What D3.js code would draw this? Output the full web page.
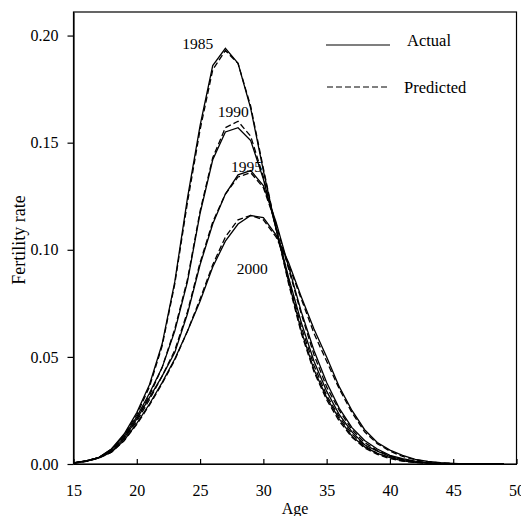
<!DOCTYPE html>
<html lang="en">
<head>
  <meta charset="UTF-8">
  <title>Fertility rate by age</title>
  <script src="https://d3js.org/d3.v7.min.js"></script>
  <style>
    body { margin: 0; background: #fff; }
    svg text { font-family: "Liberation Serif", "Times New Roman", serif; fill: #000; }
    .curve { fill: none; stroke: #000; stroke-width: 1.3px; }
    .axis path, .axis line { stroke: #000; stroke-width: 1.2px; }
  </style>
</head>
<body>
<script>
  // ages 15..49
  const ages = [15, 16, 17, 18, 19, 20, 21, 22, 23, 24, 25, 26, 27, 28, 29, 30, 31, 32,
    33, 34, 35, 36, 37, 38, 39, 40, 41, 42, 43, 44, 45, 46, 47, 48, 49];

  const actual1985 = [0.0005, 0.0015, 0.003, 0.007, 0.014, 0.024, 0.037, 0.056, 0.085, 0.124, 0.158, 0.186, 0.194, 0.187, 0.166, 0.137, 0.110, 0.085,
    0.062, 0.044, 0.031, 0.021, 0.013, 0.008, 0.005, 0.003, 0.0015, 0.0008, 0.0004, 0.0002, 0.0001, 0, 0, 0, 0];
  const predicted1985 = [0.0005, 0.0013, 0.003, 0.0065, 0.0135, 0.023, 0.036, 0.055, 0.084, 0.122, 0.156, 0.184, 0.193, 0.187, 0.167, 0.138, 0.110, 0.084,
    0.061, 0.043, 0.030, 0.020, 0.0125, 0.0075, 0.0045, 0.0025, 0.0013, 0.0007, 0.0003, 0.0001, 0.0001, 0, 0, 0, 0];

  const actual1990 = [0.0005, 0.0015, 0.003, 0.007, 0.013, 0.022, 0.033, 0.045, 0.062, 0.085, 0.117, 0.142, 0.155, 0.157, 0.151, 0.133, 0.110, 0.087,
    0.066, 0.048, 0.034, 0.023, 0.015, 0.009, 0.006, 0.0035, 0.002, 0.001, 0.0005, 0.0003, 0.0001, 0, 0, 0, 0];
  const predicted1990 = [0.0005, 0.0014, 0.003, 0.0065, 0.0125, 0.021, 0.032, 0.045, 0.063, 0.086, 0.118, 0.143, 0.157, 0.160, 0.153, 0.134, 0.110, 0.086,
    0.064, 0.046, 0.032, 0.022, 0.014, 0.0085, 0.005, 0.003, 0.0017, 0.0009, 0.0004, 0.0002, 0.0001, 0, 0, 0, 0];

  const actual1995 = [0.0005, 0.0015, 0.003, 0.006, 0.012, 0.021, 0.031, 0.041, 0.052, 0.070, 0.093, 0.112, 0.126, 0.135, 0.137, 0.130, 0.113, 0.092,
    0.071, 0.053, 0.038, 0.026, 0.017, 0.011, 0.007, 0.004, 0.0025, 0.0013, 0.0006, 0.0003, 0.0001, 0, 0, 0, 0];
  const predicted1995 = [0.0004, 0.0013, 0.003, 0.0058, 0.0118, 0.020, 0.030, 0.041, 0.053, 0.071, 0.094, 0.113, 0.126, 0.134, 0.136, 0.129, 0.112, 0.091,
    0.070, 0.051, 0.036, 0.025, 0.016, 0.010, 0.0063, 0.0038, 0.0022, 0.0011, 0.0005, 0.0002, 0.0001, 0, 0, 0, 0];

  const actual2000 = [0.0004, 0.0012, 0.0028, 0.0055, 0.011, 0.019, 0.028, 0.038, 0.049, 0.062, 0.076, 0.092, 0.104, 0.112, 0.116, 0.115, 0.107, 0.094,
    0.078, 0.063, 0.050, 0.036, 0.025, 0.016, 0.010, 0.0065, 0.004, 0.0022, 0.0012, 0.0006, 0.0003, 0.0002, 0.0001, 0, 0];
  const predicted2000 = [0.0004, 0.0012, 0.0027, 0.0055, 0.0108, 0.0185, 0.0275, 0.0375, 0.0485, 0.062, 0.077, 0.093, 0.106, 0.114, 0.116, 0.114, 0.106, 0.093,
    0.077, 0.061, 0.048, 0.035, 0.024, 0.015, 0.0095, 0.006, 0.0035, 0.002, 0.001, 0.0005, 0.0003, 0.0001, 0.0001, 0, 0];

  const xTicks = [15, 20, 25, 30, 35, 40, 45, 50];
  const yTicks = [0, 0.05, 0.10, 0.15, 0.20];

  const years = ["1985", "1990", "1995", "2000"];
  const actualSeries = [actual1985, actual1990, actual1995, actual2000];
  const predictedSeries = [predicted1985, predicted1990, predicted1995, predicted2000];
  // where each year label sits (age, value)
  const labelAge = [23.6, 26.4, 27.45, 27.9];
  const labelValue = [0.1936, 0.1621, 0.1365, 0.0887];

  const width = 521, height = 516;
  const margin = { left: 73.5, right: 4.5, top: 12, bottom: 52 };
  const serif = "'Liberation Serif', 'Times New Roman', serif";

  const svg = d3.select("body").append("svg")
    .attr("width", width)
    .attr("height", height);

  const x = d3.scaleLinear().domain([15, 50]).range([margin.left, width - margin.right]);
  const y = d3.scaleLinear().domain([0, 0.211]).range([height - margin.bottom, margin.top]);

  // frame
  svg.append("rect")
    .attr("x", x(15)).attr("y", y(0.211))
    .attr("width", x(50) - x(15)).attr("height", y(0) - y(0.211))
    .attr("fill", "none").attr("stroke", "#000").attr("stroke-width", 1.2);

  const xAxis = svg.append("g")
    .attr("class", "axis")
    .attr("transform", `translate(0,${y(0)})`)
    .call(d3.axisBottom(x).tickValues(xTicks).tickFormat(d3.format("d")).tickSize(-5).tickSizeOuter(0));
  xAxis.attr("font-family", serif).attr("font-size", 16);
  xAxis.selectAll("text").attr("y", 21);

  const yAxis = svg.append("g")
    .attr("class", "axis")
    .attr("transform", `translate(${x(15)},0)`)
    .call(d3.axisLeft(y).tickValues(yTicks).tickFormat(d3.format(".2f")).tickSize(6).tickSizeOuter(0));
  yAxis.attr("font-family", serif).attr("font-size", 16);
  yAxis.selectAll("text").attr("x", -15);

  const line = d3.line()
    .x((d, i) => x(ages[i]))
    .y(d => y(d));

  svg.selectAll(".actual")
    .data(actualSeries)
    .enter().append("path")
    .attr("class", "curve actual")
    .attr("d", line);

  svg.selectAll(".predicted")
    .data(predictedSeries)
    .enter().append("path")
    .attr("class", "curve predicted")
    .attr("stroke-dasharray", "6,3")
    .attr("d", line);

  svg.selectAll(".yearlabel")
    .data(years)
    .enter().append("text")
    .attr("class", "yearlabel")
    .attr("x", (d, i) => x(labelAge[i]))
    .attr("y", (d, i) => y(labelValue[i]))
    .attr("font-family", serif)
    .attr("font-size", 15.5)
    .text(d => d);

  // legend
  const legend = svg.append("g").attr("font-family", serif).attr("font-size", 16.5);
  legend.append("line").attr("x1", 326).attr("x2", 390).attr("y1", 45).attr("y2", 45)
    .attr("stroke", "#000").attr("stroke-width", 1.2);
  legend.append("text").attr("x", 407).attr("y", 46).text("Actual");
  legend.append("line").attr("x1", 327).attr("x2", 390).attr("y1", 87).attr("y2", 87)
    .attr("stroke", "#000").attr("stroke-width", 1).attr("stroke-dasharray", "6,3");
  legend.append("text").attr("x", 404).attr("y", 93).text("Predicted");

  // axis titles
  svg.append("text")
    .attr("x", (x(15) + x(50)) / 2)
    .attr("y", 514)
    .attr("text-anchor", "middle")
    .attr("font-family", serif)
    .attr("font-size", 16)
    .text("Age");

  svg.append("text")
    .attr("transform", `translate(25,240) rotate(-90)`)
    .attr("text-anchor", "middle")
    .attr("font-family", serif)
    .attr("font-size", 18)
    .text("Fertility rate");
</script>
</body>
</html>
